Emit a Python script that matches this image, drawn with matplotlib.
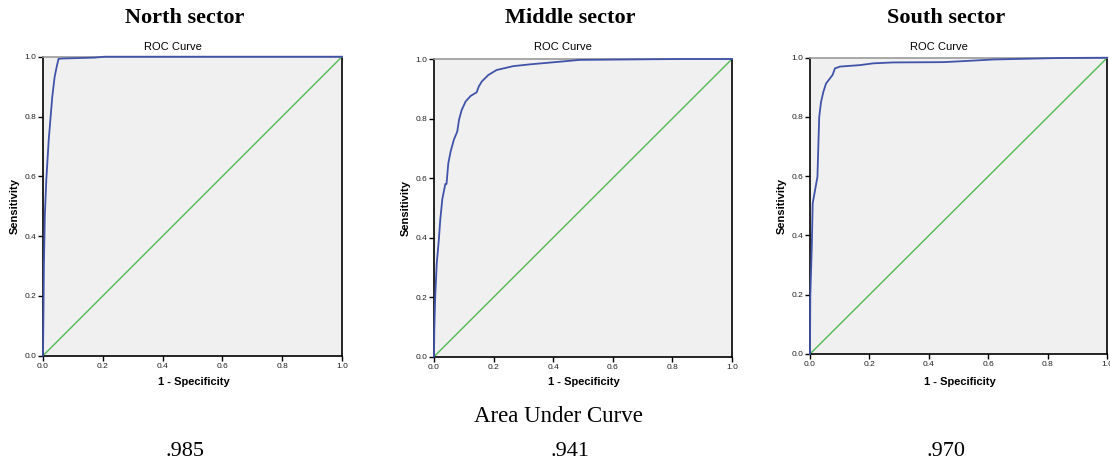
import matplotlib.pyplot as plt

# ROC points (1 - specificity, sensitivity)
north_fpr = [0.0, 0.002, 0.003, 0.006, 0.011, 0.019, 0.026, 0.031, 0.039, 0.047, 0.052, 0.067, 0.173, 0.206, 1.0]
north_tpr = [0.0, 0.186, 0.30, 0.465, 0.587, 0.72, 0.805, 0.866, 0.933, 0.972, 0.993, 0.994, 0.997, 1.0, 1.0]

middle_fpr = [0.0, 0.001, 0.004, 0.009, 0.016, 0.021, 0.028, 0.038, 0.042, 0.048, 0.056, 0.067, 0.078,
              0.084, 0.093, 0.106, 0.123, 0.143, 0.15, 0.16, 0.182, 0.21, 0.266, 0.322, 0.378, 0.434,
              0.489, 0.6, 0.825, 1.0]
middle_tpr = [0.0, 0.09, 0.2, 0.31, 0.39, 0.46, 0.53, 0.58, 0.58, 0.65, 0.69, 0.73, 0.756,
              0.796, 0.829, 0.857, 0.876, 0.888, 0.907, 0.924, 0.946, 0.963, 0.976, 0.982, 0.987, 0.992,
              0.997, 0.998, 1.0, 1.0]

south_fpr = [0.0, 0.001, 0.003, 0.006, 0.009, 0.017, 0.025, 0.028, 0.031, 0.037, 0.045, 0.054, 0.067,
             0.076, 0.084, 0.101, 0.168, 0.213, 0.28, 0.448, 0.527, 0.617, 0.841, 1.0]
south_tpr = [0.0, 0.193, 0.26, 0.362, 0.508, 0.553, 0.598, 0.70, 0.80, 0.85, 0.885, 0.913, 0.93,
             0.942, 0.964, 0.97, 0.975, 0.981, 0.984, 0.985, 0.989, 0.994, 0.999, 1.0]

sectors = ["North sector", "Middle sector", "South sector"]
auc_values = [".985", ".941", ".970"]
ticks = [0.0, 0.2, 0.4, 0.6, 0.8, 1.0]
tick_labels = ["0.0", "0.2", "0.4", "0.6", "0.8", "1.0"]

BLUE = "#4053A8"
GREEN = "#52B952"
BG = "#F0F0F0"
W, H = 1110, 463

# axes boxes in pixels: left, right, top, bottom
boxes = [(43, 342, 56.7, 355.7), (434, 732, 59, 356.7), (810, 1107.3, 57.7, 354)]
curves = [(north_fpr, north_tpr), (middle_fpr, middle_tpr), (south_fpr, south_tpr)]
title_x = [185, 570, 946]

fig = plt.figure(figsize=(W / 100, H / 100), dpi=100)
fig.patch.set_facecolor("white")

for i, (l, r, t, b) in enumerate(boxes):
    ax = fig.add_axes([l / W, 1 - b / H, (r - l) / W, (b - t) / H])
    ax.set_facecolor(BG)
    fpr, tpr = curves[i]
    ax.plot([0, 1], [0, 1], color=GREEN, lw=1.0, zorder=2)
    ax.plot(fpr, tpr, color=BLUE, lw=1.3, zorder=3, clip_on=False)
    ax.set_xlim(0, 1)
    ax.set_ylim(0, 1)
    ax.set_xticks(ticks)
    ax.set_yticks(ticks)
    ax.set_xticklabels(tick_labels, fontsize=6, family="Liberation Sans", color="#222222")
    ax.set_yticklabels(tick_labels, fontsize=6, family="Liberation Sans", color="#222222")
    ax.tick_params(direction="out", length=3.5, width=1, pad=1.5)
    for s in ["left", "bottom", "right"]:
        ax.spines[s].set_color("black")
        ax.spines[s].set_linewidth(1.2)
    ax.spines["top"].set_color("#9A9A9A")
    ax.spines["top"].set_linewidth(1.2)

    cx = (l + r) / 2
    fig.text((cx - 20) / W, 1 - 47 / H, "ROC Curve", ha="center", va="center",
             fontsize=8, family="Liberation Sans")
    fig.text((cx + 1) / W, 1 - 382 / H, "1 - Specificity", ha="center", va="center",
             fontsize=8, fontweight="bold", family="Liberation Sans")
    fig.text((l - 28) / W, 1 - ((t + b) / 2) / H, "Sensitivity", ha="center", va="center",
             rotation=90, fontsize=8, fontweight="bold", family="Liberation Sans")

    fig.text(title_x[i] / W, 1 - 18 / H, sectors[i], ha="center", va="center",
             fontsize=16, fontweight="bold", family="Liberation Serif")
    fig.text(title_x[i] / W, 1 - 451 / H, auc_values[i], ha="center", va="center",
             fontsize=16, family="Liberation Serif")

fig.text(558 / W, 1 - 417 / H, "Area Under Curve", ha="center", va="center",
         fontsize=16.5, family="Liberation Serif")

fig.savefig("out.png", dpi=100)
